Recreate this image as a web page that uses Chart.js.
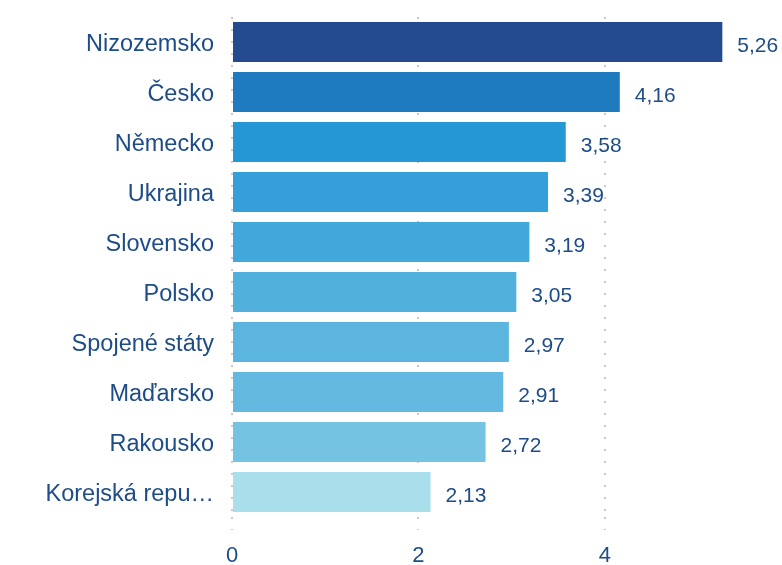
<!DOCTYPE html>
<html lang="cs">
  <head>
    <meta charset="utf-8" />
    <title>Bar chart</title>
    <style>
      * {
        margin: 0;
        padding: 0;
      }
      body {
        background: #fff;
      }
      .chartBox {
        width: 782px;
        height: 565px;
      }
    </style>
  </head>
  <body>
    <div class="chartBox">
      <canvas id="myChart"></canvas>
    </div>

    <script src="https://cdn.jsdelivr.net/npm/chart.js"></script>
    <script>
      // data block
      const countries = [
        "Nizozemsko",
        "Česko",
        "Německo",
        "Ukrajina",
        "Slovensko",
        "Polsko",
        "Spojené státy",
        "Maďarsko",
        "Rakousko",
        "Korejská repu…",
      ];
      const values = [5.26, 4.16, 3.58, 3.39, 3.19, 3.05, 2.97, 2.91, 2.72, 2.13];
      const xTicks = [0, 2, 4];

      const barColors = [
        "#244a8f",
        "#1e7bbf",
        "#2597d5",
        "#349fd8",
        "#42a8db",
        "#52b0dd",
        "#5bb5df",
        "#63b9e0",
        "#74c3e3",
        "#a8dfeb",
      ];

      const textColor = "#1d4c87";
      const fontFamily = "'Liberation Sans', Arial, sans-serif";

      // value labels at the end of the bars
      const valueLabels = {
        id: "valueLabels",
        afterDatasetsDraw(chart) {
          const { ctx } = chart;
          const meta = chart.getDatasetMeta(0);
          ctx.save();
          ctx.font = "21px " + fontFamily;
          ctx.fillStyle = textColor;
          ctx.textAlign = "left";
          ctx.textBaseline = "middle";
          meta.data.forEach((bar, i) => {
            const txt = values[i].toFixed(2).replace(".", ",");
            ctx.fillText(txt, bar.x + 15, bar.y + 4);
          });
          ctx.restore();
        },
      };

      const config = {
        type: "bar",
        data: {
          labels: countries,
          datasets: [
            {
              data: values,
              backgroundColor: barColors,
              borderWidth: 0,
              barPercentage: 0.8,
              categoryPercentage: 1,
            },
          ],
        },
        options: {
          indexAxis: "y",
          responsive: true,
          maintainAspectRatio: false,
          animation: false,
          layout: { padding: { top: 17, right: 0, left: 0, bottom: 0 } },
          plugins: {
            legend: { display: false },
            tooltip: { enabled: false },
          },
          scales: {
            x: {
              min: 0,
              max: 5.9,
              afterBuildTicks: (scale) => {
                scale.ticks = xTicks.map((v) => ({ value: v }));
              },
              afterFit: (scale) => {
                scale.height = 48;
                scale.paddingLeft = 0;
                scale.paddingRight = 0;
              },
              border: { display: false, dash: [2, 10] },
              grid: {
                color: "#c8c8c8",
                lineWidth: 2,
                tickLength: 13,
                tickBorderDash: [2, 10],
              },
              ticks: {
                color: textColor,
                font: { size: 22, family: fontFamily },
                padding: 13,
                maxRotation: 0,
              },
            },
            y: {
              afterFit: (scale) => {
                scale.width = 232;
                scale.paddingTop = 0;
                scale.paddingBottom = 0;
              },
              border: { display: false },
              grid: { display: false, drawTicks: false },
              ticks: {
                color: textColor,
                font: { size: 23.5, family: fontFamily },
                padding: 18,
                labelOffset: 3,
              },
            },
          },
        },
        plugins: [valueLabels],
      };

      const myChart = new Chart(document.getElementById("myChart"), config);
    </script>
  </body>
</html>
